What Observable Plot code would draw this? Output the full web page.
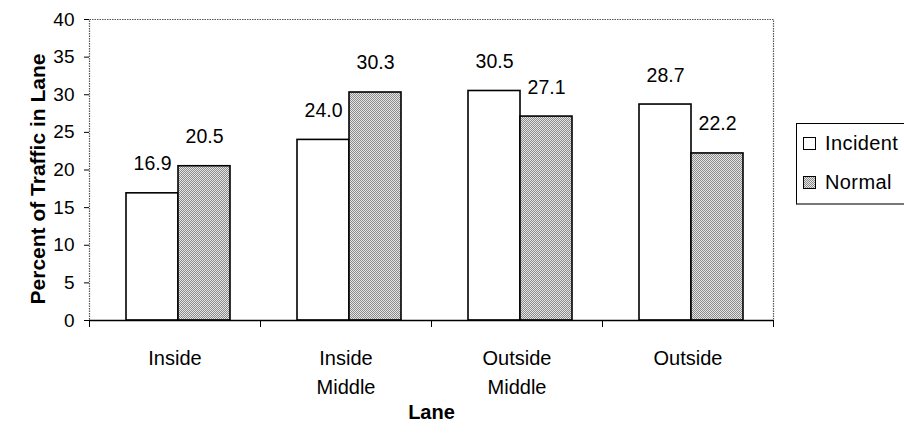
<!DOCTYPE html>
<html>
<head>
<meta charset="utf-8">
<script src="https://cdn.jsdelivr.net/npm/d3@7"></script>
<script src="https://cdn.jsdelivr.net/npm/@observablehq/plot@0.6"></script>
<style>
  html, body { margin: 0; padding: 0; background: white; overflow: hidden; }
  #wrap { position: relative; width: 904px; height: 442px; font-family: "Liberation Sans", Arial, sans-serif; }
  #legend { position: absolute; left: 796px; top: 123px; width: 130px; height: 82px; border: 1px solid #000; border-bottom: 2px solid #777; background: white; box-sizing: border-box; }
  .item { position: absolute; left: 6px; display: flex; align-items: center; font-size: 20px; letter-spacing: 0.4px; color: #000; }
  .sw { width: 13px; height: 13px; border: 1px solid #000; margin-right: 9px; box-sizing: border-box; }
  .sw.inc { background: white; }
  .sw.nor { background: repeating-conic-gradient(#8a8a8a 0 25%, #e6e6e6 0 50%) 0 0 / 2px 2px; }
</style>
</head>
<body>
<div id="wrap"></div>
<script>
const lanes = ["Inside", "Inside\nMiddle", "Outside\nMiddle", "Outside"];
const seriesNames = ["Incident", "Normal"];
const incident = [16.9, 24.0, 30.5, 28.7];
const normal = [20.5, 30.3, 27.1, 22.2];
const yTicks = [0, 5, 10, 15, 20, 25, 30, 35, 40];
const yLabel = "Percent of Traffic in Lane";
const xLabel = "Lane";

const data = lanes.flatMap((lane, i) => [
  {lane, series: seriesNames[0], value: incident[i]},
  {lane, series: seriesNames[1], value: normal[i]}
]);

const font = "'Liberation Sans', Arial, sans-serif";

const chart = Plot.plot({
  width: 904,
  height: 442,
  marginLeft: 88,
  marginRight: 131,
  marginTop: 19,
  marginBottom: 122,
  style: {fontFamily: font, background: "white", color: "black", overflow: "visible"},
  fx: {domain: lanes, padding: 0, label: null},
  x: {domain: seriesNames, paddingInner: 0, paddingOuter: 0.64, align: 0.55, axis: null},
  y: {domain: [0, 40], label: null},
  marks: [
    Plot.frame({facet: "super", stroke: "#555", strokeWidth: 1.2, strokeDasharray: "1.5,1"}),
    Plot.barY(data.filter(d => d.series === "Incident"), {fx: "lane", x: "series", y: "value", fill: "white", stroke: "black", strokeWidth: 1.6}),
    Plot.barY(data.filter(d => d.series === "Normal"), {fx: "lane", x: "series", y: "value", fill: "url(#dots)", stroke: "black", strokeWidth: 1.6}),
    Plot.text(data, {fx: "lane", x: "series", y: "value", text: d => d.value.toFixed(1), lineAnchor: "bottom", dy: -23, fontSize: 19.5, fill: "black", style: "letter-spacing:0.8px"}),
    Plot.ruleY([0], {stroke: "black", strokeWidth: 1.5}),
    Plot.frame({anchor: "left", insetTop: 301, insetBottom: -6, stroke: "black"}),
    Plot.frame({anchor: "right", insetTop: 301, insetBottom: -6, stroke: "black"}),
    Plot.axisY({ticks: yTicks, tickSize: 5, tickPadding: 10, fontSize: 19, label: null}),
    Plot.axisFx({anchor: "bottom", tickSize: 0, tickPadding: 24, fontSize: 20, lineHeight: 1.45, label: null, style: "letter-spacing:0.6px"}),
    Plot.text([yLabel], {facet: "super", frameAnchor: "left", textAnchor: "middle", rotate: -90, dx: -51, dy: 9, fontSize: 21, fontWeight: "bold", fill: "black", style: "letter-spacing:2.8px"}),
    Plot.text([xLabel], {facet: "super", frameAnchor: "bottom", textAnchor: "middle", dy: 98, fontSize: 20, fontWeight: "bold", fill: "black", style: "letter-spacing:1.5px"})
  ]
});

chart.insertAdjacentHTML("afterbegin",
  '<defs><pattern id="dots" width="2" height="2" patternUnits="userSpaceOnUse">' +
  '<rect width="2" height="2" fill="#e6e6e6"/><rect width="1" height="1" fill="#8a8a8a"/>' +
  '<rect x="1" y="1" width="1" height="1" fill="#8a8a8a"/></pattern></defs>');

const wrap = document.getElementById("wrap");
wrap.appendChild(chart);

const legend = document.createElement("div");
legend.id = "legend";
const itemTops = [8, 47];
seriesNames.forEach((name, i) => {
  const it = document.createElement("div");
  it.className = "item";
  it.style.top = itemTops[i] + "px";
  const sw = document.createElement("span");
  sw.className = "sw " + (i === 0 ? "inc" : "nor");
  const lab = document.createElement("span");
  lab.textContent = name;
  it.appendChild(sw);
  it.appendChild(lab);
  legend.appendChild(it);
});
wrap.appendChild(legend);
</script>
</body>
</html>
